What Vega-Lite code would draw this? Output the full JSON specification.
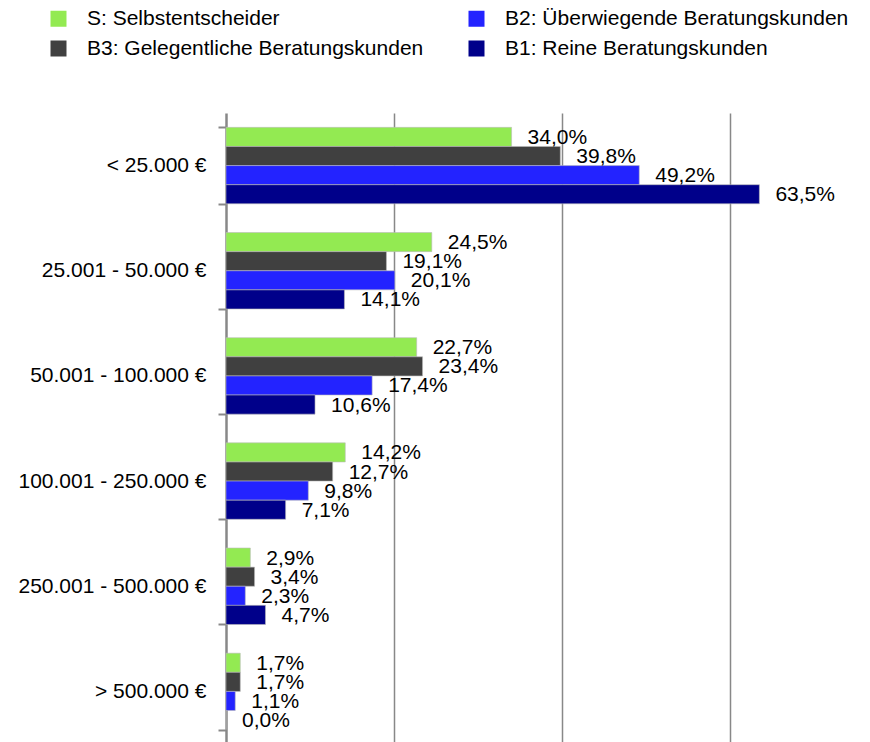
{
  "$schema": "https://vega.github.io/schema/vega-lite/v6.json",
  "autosize": "none",
  "padding": {"left": 226, "top": 113, "right": 0, "bottom": 0},
  "width": 644,
  "height": 631,
  "background": "white",
  "config": {
    "locale": {"number": {"decimal": ",", "thousands": ".", "grouping": [3], "currency": ["", " €"]}},
    "font": "Liberation Sans",
    "view": {"stroke": null}
  },
  "data": {
    "values": [
      {"cat": "< 25.000 €", "series": "S: Selbstentscheider", "value": 0.340},
      {"cat": "< 25.000 €", "series": "B3: Gelegentliche Beratungskunden", "value": 0.398},
      {"cat": "< 25.000 €", "series": "B2: Überwiegende Beratungskunden", "value": 0.492},
      {"cat": "< 25.000 €", "series": "B1: Reine Beratungskunden", "value": 0.635},
      {"cat": "25.001 - 50.000 €", "series": "S: Selbstentscheider", "value": 0.245},
      {"cat": "25.001 - 50.000 €", "series": "B3: Gelegentliche Beratungskunden", "value": 0.191},
      {"cat": "25.001 - 50.000 €", "series": "B2: Überwiegende Beratungskunden", "value": 0.201},
      {"cat": "25.001 - 50.000 €", "series": "B1: Reine Beratungskunden", "value": 0.141},
      {"cat": "50.001 - 100.000 €", "series": "S: Selbstentscheider", "value": 0.227},
      {"cat": "50.001 - 100.000 €", "series": "B3: Gelegentliche Beratungskunden", "value": 0.234},
      {"cat": "50.001 - 100.000 €", "series": "B2: Überwiegende Beratungskunden", "value": 0.174},
      {"cat": "50.001 - 100.000 €", "series": "B1: Reine Beratungskunden", "value": 0.106},
      {"cat": "100.001 - 250.000 €", "series": "S: Selbstentscheider", "value": 0.142},
      {"cat": "100.001 - 250.000 €", "series": "B3: Gelegentliche Beratungskunden", "value": 0.127},
      {"cat": "100.001 - 250.000 €", "series": "B2: Überwiegende Beratungskunden", "value": 0.098},
      {"cat": "100.001 - 250.000 €", "series": "B1: Reine Beratungskunden", "value": 0.071},
      {"cat": "250.001 - 500.000 €", "series": "S: Selbstentscheider", "value": 0.029},
      {"cat": "250.001 - 500.000 €", "series": "B3: Gelegentliche Beratungskunden", "value": 0.034},
      {"cat": "250.001 - 500.000 €", "series": "B2: Überwiegende Beratungskunden", "value": 0.023},
      {"cat": "250.001 - 500.000 €", "series": "B1: Reine Beratungskunden", "value": 0.047},
      {"cat": "> 500.000 €", "series": "S: Selbstentscheider", "value": 0.017},
      {"cat": "> 500.000 €", "series": "B3: Gelegentliche Beratungskunden", "value": 0.017},
      {"cat": "> 500.000 €", "series": "B2: Überwiegende Beratungskunden", "value": 0.011},
      {"cat": "> 500.000 €", "series": "B1: Reine Beratungskunden", "value": 0.0}
    ]
  },
  "encoding": {
    "y": {
      "field": "cat", "type": "nominal", "sort": null, "title": null,
      "scale": {"paddingInner": 0.273, "paddingOuter": 0.1365},
      "axis": {
        "tickBand": "extent", "tickSize": 8, "tickColor": "#888888", "tickWidth": 2,
        "domainColor": "#888888", "domainWidth": 2.5,
        "labelFontSize": 21, "labelColor": "#000000", "labelPadding": 12, "labelLimit": 300
      }
    },
    "yOffset": {
      "field": "series", "type": "nominal",
      "sort": ["S: Selbstentscheider", "B3: Gelegentliche Beratungskunden", "B2: Überwiegende Beratungskunden", "B1: Reine Beratungskunden"],
      "scale": {"paddingInner": 0, "paddingOuter": 0}
    },
    "x": {
      "field": "value", "type": "quantitative", "title": null,
      "scale": {"domain": [0, 0.7667], "nice": false, "zero": true},
      "axis": {
        "values": [0.2, 0.4, 0.6], "labels": false, "ticks": false, "domain": false,
        "grid": true, "gridColor": "#888888", "gridWidth": 1.5
      }
    }
  },
  "layer": [
    {
      "mark": {"type": "bar", "stroke": "#bbbbbb", "strokeWidth": 0.6},
      "encoding": {
        "color": {
          "field": "series", "type": "nominal",
          "scale": {
            "domain": ["S: Selbstentscheider", "B3: Gelegentliche Beratungskunden", "B2: Überwiegende Beratungskunden", "B1: Reine Beratungskunden"],
            "range": ["#93ea52", "#404040", "#2323ff", "#00008a"]
          },
          "legend": {
            "title": null, "orient": "none", "legendX": -178, "legendY": -105,
            "columns": 2, "columnPadding": 42, "rowPadding": 8,
            "symbolType": "square", "symbolSize": 256, "symbolStrokeWidth": 0,
            "labelFontSize": 21, "labelColor": "#000000", "labelOffset": 18, "labelLimit": 500
          }
        }
      }
    },
    {
      "mark": {"type": "text", "align": "left", "baseline": "middle", "dx": 16, "dy": 1, "fontSize": 21, "color": "#000000"},
      "encoding": {
        "text": {"field": "value", "type": "quantitative", "format": ".1%"}
      }
    }
  ]
}
